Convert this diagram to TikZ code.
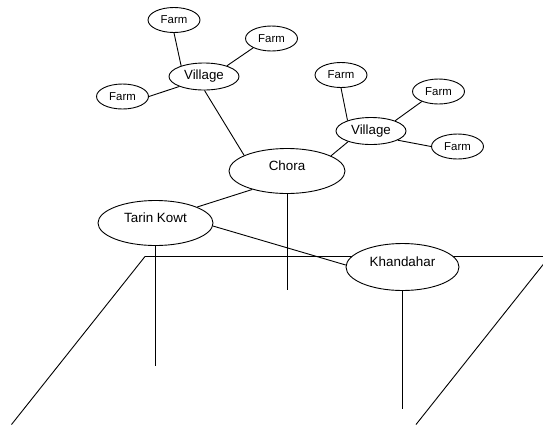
\documentclass[tikz,border=0pt]{standalone}
\usepackage{fontspec}
\setmainfont{Liberation Sans}
\usetikzlibrary{shapes.geometric}
\begin{document}
\begin{tikzpicture}[x=1pt,y=-1pt,
  line width=0.9pt,
  place/.style={ellipse,draw,fill=white,inner sep=0pt,line width=0.9pt},
  farm/.style={place,minimum width=52pt,minimum height=25pt,font=\fontsize{11.4}{13}\selectfont},
  village/.style={place,minimum width=70pt,minimum height=27pt,font=\fontsize{13.3}{15}\selectfont},
  town/.style={place,minimum width=#1,minimum height=45pt},
  townname/.style={font=\fontsize{13.4}{15}\selectfont,yshift=5.5pt,inner sep=0pt},
  link/.style={draw,line width=0.9pt}]
\useasboundingbox (0,0) rectangle (543,424);
\clip (0,0) rectangle (543,424);

% ground plane
\draw (145,256.5) -- (549.5,256.5) -- (416,424.5) (145,256.5) -- (11.5,424.5);

% settlements
\node[town=116pt,label={[townname]center:Chora}] (chora) at (287,171) {};
\node[town=115pt,label={[townname]center:Tarin Kowt}] (tk) at (155.5,223) {};
\node[town=113pt,minimum height=47pt,label={[townname]center:Khandahar}] (kh) at (402.5,267) {};

\node[village] (v1) at (204,76.5) {Village};
\node[village] (v2) at (371,131) {Village};

\node[farm] (f1) at (174,20) {Farm};
\node[farm] (f2) at (271.5,38.5) {Farm};
\node[farm] (f3) at (122.5,96.5) {Farm};
\node[farm] (f4) at (341,75) {Farm};
\node[farm] (f5) at (438.5,91.5) {Farm};
\node[farm] (f6) at (457.5,146.5) {Farm};

% drop lines to the ground
\coordinate (tkg) at (155.5,366);
\coordinate (chg) at (287,290);
\coordinate (khg) at (402.5,409);
\draw[link] (tk.south) -- (tkg);
\draw[link] (chora.south) -- (chg);
\draw[link] (kh.south) -- (khg);

% connections
\draw[link] (f1.south) -- (v1.155);
\draw[link] (f2.207) -- (v1.25);
\draw[link] (f3.east) -- (v1.202);
\draw[link] (v1.-88) -- (chora.160);
\draw[link] (f4.south) -- (v2.156);
\draw[link] (f5.211) -- (v2.23);
\draw[link] (f6.west) -- (v2.-19);
\draw[link] (v2.205) -- (chora.19);
\draw[link] (chora.208) -- (tk.21);
\draw[link] (tk.-3) -- (kh.178);
\end{tikzpicture}
\end{document}
